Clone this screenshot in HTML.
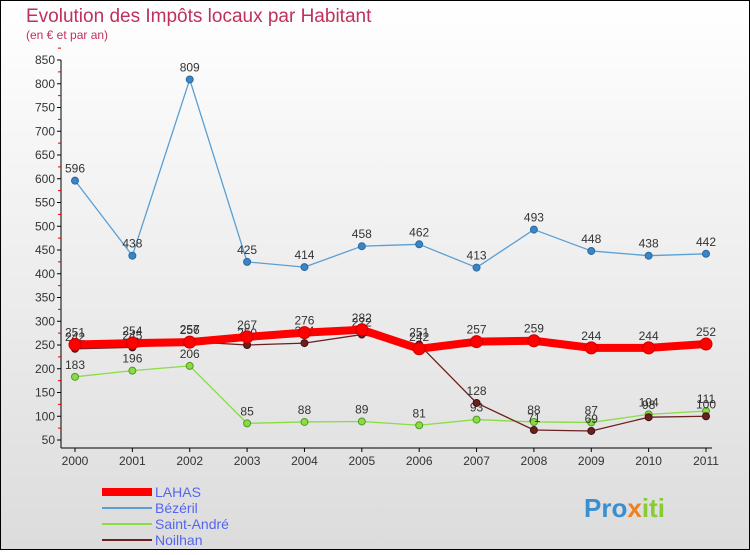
<!DOCTYPE html>
<html><head><meta charset="utf-8"><style>
body{margin:0;width:750px;height:550px;overflow:hidden;font-family:"Liberation Sans",sans-serif}
</style></head><body>
<svg width="750" height="550" xmlns="http://www.w3.org/2000/svg">
<defs><linearGradient id="bg" x1="0" y1="0" x2="0" y2="1"><stop offset="0" stop-color="#ffffff"/><stop offset="1" stop-color="#dcdcdc"/></linearGradient></defs>
<rect x="0.5" y="0.5" width="749" height="549" fill="url(#bg)" stroke="#000"/>
<text x="26" y="22" font-size="19" fill="#c0305a">Evolution des Impôts locaux par Habitant</text>
<text x="26" y="39" font-size="12" fill="#c0305a">(en € et par an)</text>
<g id="axes"></g><g id="series"></g>
<g>
<rect x="102" y="488" width="50" height="8" fill="#ff0000"/>
<text x="155" y="497" font-size="14" fill="#5566ee">LAHAS</text>
<rect x="102" y="507" width="50" height="2" fill="#5a9fd4"/>
<text x="155" y="513" font-size="14" fill="#5566ee">Bézéril</text>
<rect x="102" y="523" width="50" height="2" fill="#88dd44"/>
<text x="155" y="529" font-size="14" fill="#5566ee">Saint-André</text>
<rect x="102" y="539" width="50" height="2" fill="#6b2020"/>
<text x="155" y="545" font-size="14" fill="#5566ee">Noilhan</text>
</g>
<text x="584" y="517" font-size="26" font-weight="bold" fill="#3a8fd0">Pro<tspan fill="#f08020">x</tspan><tspan fill="#88cc33">iti</tspan></text>
</svg>
<script>
const years=["2000","2001","2002","2003","2004","2005","2006","2007","2008","2009","2010","2011"];
const yTicks=[50,100,150,200,250,300,350,400,450,500,550,600,650,700,750,800,850];
const lahas=[251,254,256,267,276,282,242,257,259,244,244,252];
const bezeril=[596,438,809,425,414,458,462,413,493,448,438,442];
const saintAndre=[183,196,206,85,88,89,81,93,88,87,104,111];
const noilhan=[242,245,257,250,254,272,251,128,71,69,98,100];
const NS="http://www.w3.org/2000/svg";
const x=i=>75+i*(631/11);
const y=v=>440-(v-50)*0.475;
function mk(t,a,p){const e=document.createElementNS(NS,t);for(const k in a)e.setAttribute(k,a[k]);p.appendChild(e);return e;}
const ax=document.getElementById('axes');
let l=mk('line',{x1:61,y1:y(850),x2:61,y2:448,stroke:'#000'},ax);


l=mk('line',{x1:61,y1:448,x2:712,y2:448,stroke:'#000'},ax);


yTicks.forEach(v=>{
  mk('line',{x1:57,y1:y(v),x2:61,y2:y(v),stroke:'#000'},ax);
  mk('line',{x1:58,y1:y(v+25),x2:61,y2:y(v+25),stroke:'#d00'},ax);
  const t=mk('text',{x:55,y:y(v)+4,'font-size':12,fill:'#333','text-anchor':'end'},ax);
  t.textContent=v;
  
  
});
years.forEach((yr,i)=>{
  mk('line',{x1:x(i),y1:448,x2:x(i),y2:452,stroke:'#000'},ax);
  const t=mk('text',{x:x(i),y:465,'font-size':12,fill:'#333','text-anchor':'middle'},ax);
  t.textContent=yr;
  
  
});
const sg=document.getElementById('series');
function series(name,vals,color,w,r,dot,dotStroke){
  const g=mk('g',{},sg);
  
  
  const pl=mk('polyline',{points:vals.map((v,i)=>x(i)+','+y(v)).join(' '),fill:'none',stroke:color,'stroke-width':w,'stroke-linejoin':'round'},g);
  
  
  vals.forEach((v,i)=>{
    const c=mk('circle',{cx:x(i),cy:y(v),r:r,fill:dot,stroke:dotStroke,'stroke-width':1},g);
    
    
    const t=mk('text',{x:x(i),y:y(v)-8,'font-size':12,fill:'#333','text-anchor':'middle'},g);
    t.textContent=v;
    
    
  });
}
series('bezeril',bezeril,'#5a9fd4',1.3,3.5,'#3a85c5','#2a6aa0');
series('saint-andre',saintAndre,'#88dd44',1.3,3.5,'#88dd44','#559922');
series('noilhan',noilhan,'#6b2020',1.3,3.5,'#6b2020','#401010');
series('lahas',lahas,'#ff0000',8,6,'#ff0000','#cc0000');
</script>
</body></html>
